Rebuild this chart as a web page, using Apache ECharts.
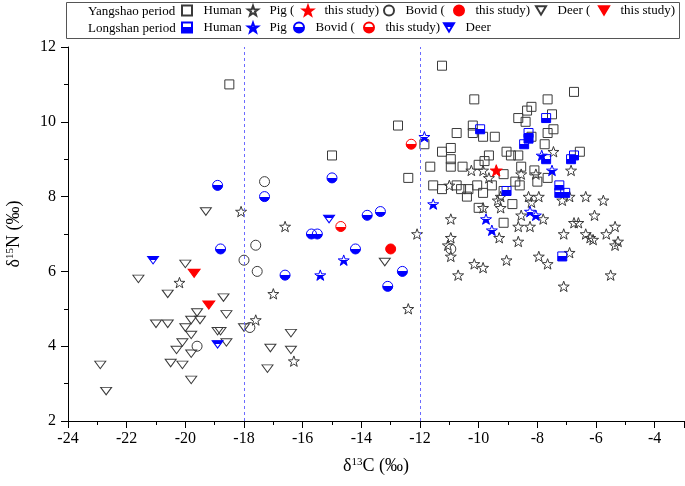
<!DOCTYPE html>
<html><head><meta charset="utf-8">
<script src="https://cdn.jsdelivr.net/npm/echarts@6/dist/echarts.min.js"></script>
<style>html,body{margin:0;padding:0;background:#fff}#c{width:685px;height:486px}</style>
</head><body><div id="c"></div>
<script>
// ---- data: [δ13C, δ15N] ----
const yangshaoHuman = [
  [-18.5,11.0],[-12.75,9.9],[-11.85,9.4],[-15.0,9.1],[-12.4,8.5],[-11.25,11.5],[-10.15,10.6],[-7.65,10.6],
  [-6.75,10.8],[-8.2,10.4],[-8.35,10.3],[-8.65,10.1],[-8.4,10.0],[-7.5,10.2],[-10.2,9.9],[-10.2,9.7],
  [-9.85,9.6],[-9.45,9.6],[-10.75,9.7],[-8.2,9.6],[-7.65,9.7],[-7.45,9.8],[-7.75,9.4],[-10.95,9.3],
  [-11.25,9.2],[-9.65,9.1],[-9.05,9.2],[-8.9,9.1],[-8.65,9.1],[-10.95,9.0],[-11.65,8.8],[-10.95,8.8],
  [-10.55,8.8],[-10.0,8.85],[-9.8,8.95],[-8.55,8.8],[-9.15,8.6],[-8.1,8.7],[-6.55,9.2],[-7.65,8.5],
  [-11.55,8.3],[-11.25,8.2],[-10.75,8.3],[-10.6,8.2],[-10.4,8.0],[-10.35,8.2],[-10.05,8.3],[-9.85,8.1],
  [-9.55,8.3],[-9.15,8.15],[-8.75,8.4],[-8.6,8.3],[-8.85,7.8],[-8.0,8.4],[-10.0,7.7],[-9.15,7.3]
];
const yangshaoPig = [
  [-18.1,7.6],[-20.2,5.7],[-16.6,7.2],[-17.0,5.4],[-17.6,4.7],[-16.3,3.6],[-12.1,7.0],[-12.4,5.0],
  [-10.25,8.7],[-9.85,8.7],[-9.65,8.5],[-8.55,8.6],[-8.05,8.6],[-7.45,9.2],[-6.85,8.7],[-11.0,8.3],
  [-9.25,8.0],[-9.35,7.9],[-9.25,7.7],[-9.85,7.7],[-8.55,7.5],[-8.3,8.0],[-7.95,8.0],[-8.2,7.85],
  [-7.8,7.4],[-8.65,7.2],[-8.25,7.2],[-8.65,6.8],[-9.3,6.9],[-10.95,7.4],[-10.95,6.9],[-11.05,6.7],
  [-10.95,6.4],[-10.15,6.2],[-9.85,6.1],[-9.05,6.3],[-10.7,5.9],[-7.95,6.4],[-7.65,6.2],[-7.15,7.9],
  [-6.9,8.0],[-6.35,8.0],[-5.75,7.9],[-6.75,7.3],[-6.6,7.3],[-6.05,7.5],[-7.1,7.0],[-6.35,7.0],
  [-6.2,6.9],[-6.1,6.85],[-5.65,7.0],[-5.35,7.2],[-5.25,6.8],[-5.35,6.7],[-6.9,6.5],[-5.5,5.9],[-7.1,5.6]
];
const yangshaoPigThisStudy = [[-9.4,8.7]];
const yangshaoBovid = [[-17.3,8.4],[-17.6,6.7],[-18.0,6.3],[-17.55,6.0],[-17.8,4.5],[-19.6,4.0],[-10.95,6.6]];
const yangshaoBovidThisStudy = [[-13.0,6.6]];
const yangshaoDeer = [
  [-19.3,7.6],[-20.0,6.2],[-21.6,5.8],[-20.6,5.4],[-18.7,5.3],[-19.6,4.9],[-18.6,4.85],[-19.8,4.7],
  [-19.5,4.7],[-21.0,4.6],[-20.6,4.6],[-20.0,4.5],[-18.0,4.5],[-19.8,4.3],[-18.9,4.4],[-18.8,4.4],
  [-20.1,4.1],[-18.6,4.1],[-20.3,3.9],[-19.8,3.8],[-22.9,3.5],[-20.5,3.55],[-20.1,3.5],[-19.8,3.1],
  [-22.7,2.8],[-17.1,3.95],[-16.4,4.35],[-16.4,3.9],[-17.2,3.4],[-13.2,6.25]
];
const yangshaoDeerThisStudy = [[-19.7,5.95],[-19.2,5.1]];
const longshanHuman = [
  [-7.7,10.1],[-9.95,9.8],[-8.3,9.7],[-8.3,9.55],[-8.45,9.4],[-7.7,9.0],[-6.75,9.1],[-6.85,9.0],
  [-9.05,8.15],[-7.25,8.3],[-7.25,8.1],[-7.05,8.1],[-7.15,6.4]
];
const longshanPig = [
  [-11.85,9.6],[-7.85,9.1],[-7.5,8.7],[-11.55,7.8],[-9.75,7.4],[-9.55,7.1],[-8.25,7.6],[-8.05,7.5],
  [-14.6,6.3],[-15.4,5.9]
];
const longshanBovid = [
  [-18.9,8.3],[-18.8,6.6],[-17.3,8.0],[-15.0,8.5],[-15.7,7.0],[-15.5,7.0],[-13.8,7.5],[-13.35,7.6],
  [-14.2,6.6],[-16.6,5.9],[-12.6,6.0],[-13.1,5.6]
];
const longshanBovidThisStudy = [[-12.3,9.4],[-14.7,7.2]];
const longshanDeer = [[-21.1,6.3],[-18.9,4.05],[-15.1,7.4]];
const dividers = [-18, -12];

// ---- styling ----
const FONT = '"Liberation Serif", "Times New Roman", serif';
const STAR = (function () {
  let s = 'path://';
  for (let i = 0; i < 10; i++) {
    const a = (-90 + 36 * i) * Math.PI / 180, r = i % 2 ? 4 : 10;
    s += (i ? 'L' : 'M') + (10 + r * Math.cos(a)).toFixed(3) + ',' + (10 + r * Math.sin(a)).toFixed(3);
  }
  return s + 'Z';
})();
const DTRI = 'path://M0,0L12,0L6,10Z';
const GREY = '#3a3a3a', BLUE = '#0000ff', RED = '#ff0000';
function half(color, off, bottom) {
  const clear = 'rgba(255,255,255,0)';
  const a = bottom ? clear : color, b = bottom ? color : clear;
  return {type: 'linear', x: 0, y: 0, x2: 0, y2: 1,
    colorStops: [{offset: 0, color: a}, {offset: off, color: a}, {offset: off, color: b}, {offset: 1, color: b}]};
}
function sc(name, data, symbol, size, fill, border, z) {
  return {type: 'scatter', name, data, symbol, symbolSize: size, symbolKeepAspect: true, z: z || 2,
    itemStyle: {color: fill, borderColor: border, borderWidth: 1, opacity: 1},
    emphasis: {disabled: true}};
}
const series = [
  sc('Yangshao Human', yangshaoHuman, 'rect', 9, 'rgba(255,255,255,0)', GREY),
  sc('Yangshao Pig', yangshaoPig, STAR, 11, 'rgba(255,255,255,0)', GREY),
  sc('Yangshao Bovid', yangshaoBovid, 'circle', 10, 'rgba(255,255,255,0)', GREY),
  sc('Yangshao Deer', yangshaoDeer, DTRI, [11, 9], 'rgba(255,255,255,0)', GREY),
  sc('Yangshao Pig (this study)', yangshaoPigThisStudy, STAR, 12, RED, RED, 3),
  sc('Yangshao Bovid (this study)', yangshaoBovidThisStudy, 'circle', 10, RED, RED, 3),
  sc('Yangshao Deer (this study)', yangshaoDeerThisStudy, DTRI, [12, 10], RED, RED, 3),
  sc('Longshan Human', longshanHuman, 'rect', 9, half(BLUE, 0.45, true), BLUE, 4),
  sc('Longshan Pig', longshanPig, STAR, 11, half(BLUE, 0.5, true), BLUE, 4),
  sc('Longshan Bovid', longshanBovid, 'circle', 10, half(BLUE, 0.5, true), BLUE, 4),
  sc('Longshan Bovid (this study)', longshanBovidThisStudy, 'circle', 10, half(RED, 0.5, true), RED, 4),
  sc('Longshan Deer', longshanDeer, DTRI, [11, 9], half(BLUE, 0.42, false), BLUE, 4)
];
series[0].markLine = {
  silent: true, symbol: ['none', 'none'], label: {show: false}, animation: false,
  lineStyle: {color: '#6b6bff', width: 1, type: [3, 3]},
  data: dividers.map(v => ({xAxis: v}))
};

// legend layout: [series name, label, icon centre x, row centre y]
const legendItems = [
  ['Yangshao Human', 'Human', 186, 12], ['Yangshao Pig', 'Pig (', 252, 12],
  ['Yangshao Pig (this study)', 'this study)', 307, 12], ['Yangshao Bovid', 'Bovid (', 388, 12],
  ['Yangshao Bovid (this study)', 'this study)', 458, 12], ['Yangshao Deer', 'Deer (', 540, 12],
  ['Yangshao Deer (this study)', 'this study)', 603, 12],
  ['Longshan Human', 'Human', 186, 29], ['Longshan Pig', 'Pig', 252, 29],
  ['Longshan Bovid', 'Bovid (', 298, 29], ['Longshan Bovid (this study)', 'this study)', 368, 29],
  ['Longshan Deer', 'Deer', 448, 29]
];
const legends = legendItems.map(([name, label, cx, cy]) => ({
  data: [name], left: cx - 5, top: cy - 8, itemWidth: 10, itemHeight: 10, padding: 0, itemGap: 0,
  selectedMode: false, formatter: () => '  ' + label,
  textStyle: {fontFamily: FONT, fontSize: 13, color: '#000'}
}));

const axisCommon = {
  type: 'value', nameLocation: 'middle', nameMoveOverlap: false,
  axisLine: {show: true, onZero: false, lineStyle: {color: '#000', width: 1}},
  axisTick: {show: true, inside: false, length: 7, lineStyle: {color: '#000', width: 1}},
  minorTick: {show: true, splitNumber: 2, length: 4, lineStyle: {color: '#000', width: 1}},
  splitLine: {show: false},
  nameTextStyle: {fontFamily: FONT, fontSize: 18, color: '#000',
    rich: {sup: {fontFamily: FONT, fontSize: 11, color: '#000', verticalAlign: 'top'}}}
};
const option = {
  animation: false,
  backgroundColor: '#fff',
  grid: {left: 68, right: 1, top: 47, bottom: 65, outerBoundsMode: 'none', containLabel: false},
  xAxis: Object.assign({}, axisCommon, {
    min: -24, max: -3, interval: 2, name: 'δ{sup|13}C (‰)', nameGap: 36,
    axisLabel: {fontFamily: FONT, fontSize: 16, color: '#000', margin: 10, showMaxLabel: false}
  }),
  yAxis: Object.assign({}, axisCommon, {
    min: 2, max: 12, interval: 2, name: 'δ{sup|15}N (‰)', nameGap: 45,
    axisLabel: {fontFamily: FONT, fontSize: 16, color: '#000', margin: 12}
  }),
  legend: legends,
  graphic: [
    {type: 'rect', silent: true, shape: {x: 66.5, y: 2.5, width: 613, height: 36},
      style: {fill: 'none', stroke: '#555', lineWidth: 1}},
    {type: 'text', silent: true, x: 88, y: 12,
      style: {text: 'Yangshao period', fontFamily: FONT, fontSize: 13, fill: '#000', verticalAlign: 'middle'}},
    {type: 'text', silent: true, x: 88, y: 29,
      style: {text: 'Longshan period', fontFamily: FONT, fontSize: 13, fill: '#000', verticalAlign: 'middle'}}
  ],
  series
};
const chart = echarts.init(document.getElementById('c'), null, {renderer: 'canvas'});
chart.setOption(option);
</script>
</body></html>
